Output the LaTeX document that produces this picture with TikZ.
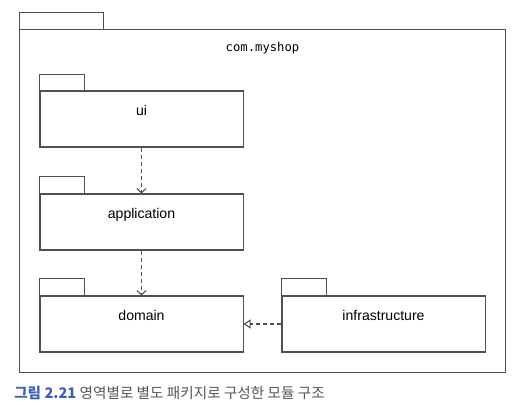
\documentclass[tikz,border=0pt]{standalone}
\usepackage{fontspec}
\setmainfont{Liberation Sans}
\setmonofont{DejaVu Sans Mono}
\newfontfamily\krfont{Noto Sans CJK KR}
\usetikzlibrary{arrows.meta,positioning}
\definecolor{linegray}{HTML}{505050}
\definecolor{capblue}{HTML}{3D5FB8}
\definecolor{capgray}{HTML}{555555}

\begin{document}
\begin{tikzpicture}[x=0.025cm,y=-0.025cm,
	pkg/.style={draw=linegray,line width=0.75pt,minimum width=5.075cm,minimum height=1.4cm,
		label={[anchor=north,yshift=-0.25cm,font=\fontsize{10}{12}\selectfont]north:#1}},
	dep/.style={draw=linegray,line width=0.75pt,dash pattern=on 3pt off 2pt},
	]
	\useasboundingbox (0,0) rectangle (517,412);
	% outer package
	\node[draw=linegray,line width=0.75pt,minimum width=12.125cm,minimum height=8.55cm,
		label={[anchor=north,yshift=-0.2cm,font=\ttfamily\fontsize{8.7}{10}\selectfont]north:com.myshop}] (shop) at (262.5,201) {};
	\draw[linegray,line width=0.75pt] (shop.north west) rectangle ++(84,-17);
	% inner packages
	\node[pkg=ui] (ui) at (141.5,119) {};
	\node[pkg=application] (app) at (141.5,222) {};
	\node[pkg=domain] (dom) at (141.5,324) {};
	\node[pkg=infrastructure] (infra) at (383.5,324) {};
	\draw[linegray,line width=0.75pt] (ui.north west) rectangle ++(45,-16);
	\draw[linegray,line width=0.75pt] (app.north west) rectangle ++(45,-17);
	\draw[linegray,line width=0.75pt] (dom.north west) rectangle ++(45,-17);
	\draw[linegray,line width=0.75pt] (infra.north west) rectangle ++(45,-17);
	% dependencies
	\draw[dep,-{Straight Barb[length=3pt,width=6.5pt,line width=0.75pt]}] (ui) -- (app);
	\draw[dep,-{Straight Barb[length=3pt,width=6.5pt,line width=0.75pt]}] (app) -- (dom);
	\draw[dep,-{Triangle[open,length=5pt,width=6.5pt,line width=0.75pt]}] (infra) -- (dom);
	% caption
	\node[anchor=west,inner sep=0pt,font=\krfont\fontsize{10.4}{12}\selectfont] (cap) at (14,393)
		{\textcolor{capblue}{\textbf{그림 2.21}} \textcolor{capgray}{영역별로 별도 패키지로 구성한 모듈 구조}};
\end{tikzpicture}
\end{document}
